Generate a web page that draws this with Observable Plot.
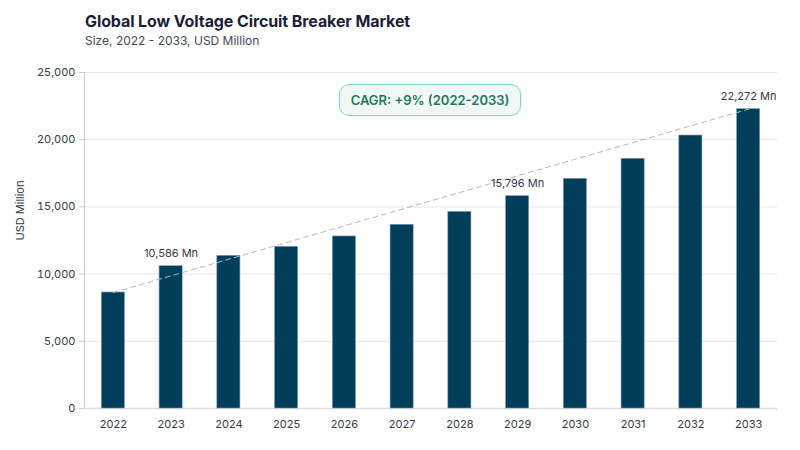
<!DOCTYPE html>
<html>
<head>
<meta charset="utf-8">
<script src="https://cdn.jsdelivr.net/npm/d3@7"></script>
<script src="https://cdn.jsdelivr.net/npm/@observablehq/plot@0.6"></script>
<style>
  body { margin: 0; width: 800px; height: 450px; position: relative; background: #fff; font-family: Inter, "Open Sans", sans-serif; overflow: hidden; }
  #title { position: absolute; left: 85px; top: 11px; font-size: 16px; font-weight: 700; color: #1b1f33; letter-spacing: -0.1px; }
  #subtitle { position: absolute; left: 85px; top: 33px; font-size: 12px; color: #444a57; }
  #chart { position: absolute; left: 0; top: 58px; }
  #cagr { position: absolute; left: 339px; top: 84px; width: 180px; height: 30px; border: 1.5px solid #86d8bd; border-radius: 10px; background: #f1f6f6; color: #1d7a5b; font-size: 13px; font-weight: 600; display: flex; align-items: center; justify-content: center; box-sizing: content-box; }
</style>
</head>
<body>
<div id="title">Global Low Voltage Circuit Breaker Market</div>
<div id="subtitle">Size, 2022 - 2033, USD Million</div>
<div id="chart"></div>
<div id="cagr">CAGR: +9% (2022-2033)</div>
<script>
const years = ["2022","2023","2024","2025","2026","2027","2028","2029","2030","2031","2032","2033"];
const values = [8630, 10586, 11360, 12030, 12800, 13670, 14630, 15796, 17090, 18580, 20310, 22272];
const labeledYears = ["2023", "2029", "2033"];
const yTicks = [0, 5000, 10000, 15000, 20000, 25000];
const trendYears = ["2022", "2033"];

const data = years.map((y, i) => ({year: y, value: values[i]}));
const labeled = data.filter(d => labeledYears.includes(d.year));
const trend = data.filter(d => trendYears.includes(d.year));
const fmt = d3.format(",");

const chart = Plot.plot({
  width: 800,
  height: 382,
  marginTop: 14,
  marginBottom: 32,
  marginLeft: 84,
  marginRight: 23,
  style: {fontFamily: "Inter, 'Open Sans', sans-serif", fontSize: "11px", color: "#333a48"},
  x: {domain: years, paddingInner: 0.6, paddingOuter: 0.3, round: false, label: null},
  y: {domain: [0, 25000], label: null},
  marks: [
    Plot.gridY(yTicks, {stroke: "#e6e6e6", strokeOpacity: 1}),
    Plot.ruleY([0], {stroke: "#dcdee6", strokeWidth: 1.5}),
    Plot.frame({anchor: "left", stroke: "#c9cdd8"}),
    Plot.barY(data, {x: "year", y: "value", fill: "#013e5b", stroke: "#7d9cae", strokeWidth: 0.6}),
    Plot.line(trend, {x: "year", y: "value", stroke: "#b8b8b8", strokeDasharray: "5,4", strokeWidth: 1}),
    Plot.text(labeled, {x: "year", y: "value", text: d => fmt(d.value) + " Mn", dy: -13, fill: "#333a48", fontSize: 11}),
    Plot.axisY(yTicks, {tickFormat: d => fmt(d), tickSize: 5, tickPadding: 4, stroke: "#c9cdd8", fill: "#333a48", fontSize: 11, label: null}),
    Plot.axisX({tickSize: 0, tickPadding: 12, fill: "#333a48", fontSize: 11, label: null}),
    Plot.text(["USD Million"], {frameAnchor: "left", dx: -64, rotate: -90, fill: "#333a48", fontSize: 11})
  ]
});
document.getElementById("chart").appendChild(chart);
</script>
</body>
</html>
